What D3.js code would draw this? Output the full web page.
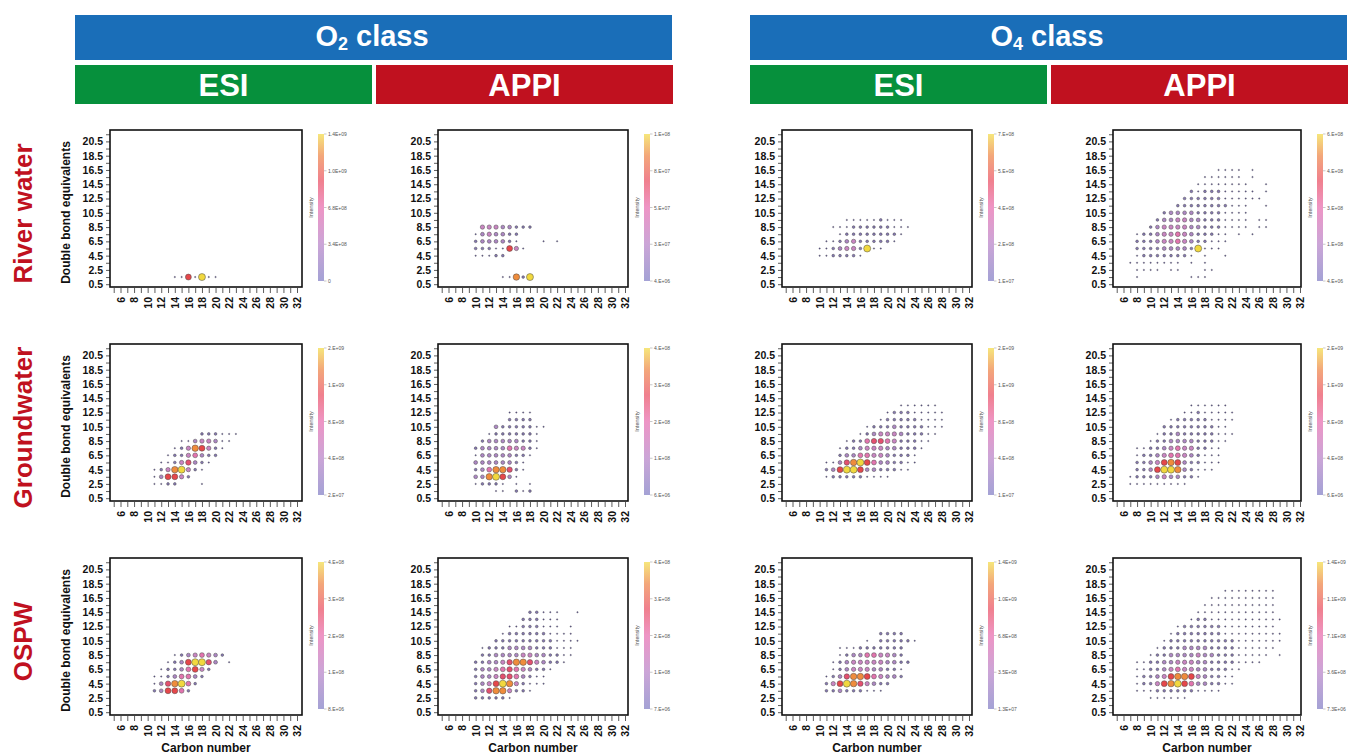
<!DOCTYPE html>
<html><head><meta charset="utf-8">
<script src="https://cdn.jsdelivr.net/npm/d3@7"></script>
<style>body{margin:0;background:#fff}svg{display:block}text{font-family:"Liberation Sans",Arial,sans-serif}</style>
</head><body><svg id="c" width="1348" height="756"></svg>
<script>
// ---------------- DATA ----------------
const rowNames = ["River water", "Groundwater", "OSPW"];
const classBase = ["O", "O"];
const classSub = ["2", "4"];
const classRest = [" class", " class"];
const ionNames = ["ESI", "APPI"];
const carbonTicks = [6, 8, 10, 12, 14, 16, 18, 20, 22, 24, 26, 28, 30, 32];
const dbeTicks = [0.5, 2.5, 4.5, 6.5, 8.5, 10.5, 12.5, 14.5, 16.5, 18.5, 20.5];
const intensityLevels = [1, 2, 3, 4, 5, 6, 7, 8, 9];

// each row: "DBE:first carbon number:intensity level per carbon (0 = absent)"
const riverO2ESI = ["1.5:14:1171911"];
const riverO2APPI = ["8.5:11:44433222", "7.5:10:1343322", "6.5:10:2333321000101", "5.5:10:22211741", "4.5:10:11122", "1.5:14:11829"];
const riverO4ESI = ["9.5:14:111112111", "8.5:12:111222222111", "7.5:13:1222222221", "6.5:11:11234222221", "5.5:10:1123442911", "4.5:10:1122221"];
const riverO4APPI = ["16.5:20:111101", "15.5:18:11111101", "14.5:17:11111111001", "13.5:16:212221111101", "12.5:15:222222111111",
  "11.5:14:22222222111001", "10.5:12:2333322221111", "9.5:11:23344332221111011", "8.5:10:234444332221111011",
  "7.5:8:122344543222110101", "6.5:8:22234454322111", "5.5:8:2222333329111", "4.5:8:12222222101001",
  "3.5:7:111111110101", "2.5:8:111101100011", "1.5:8:10000000111"];
const groundO2ESI = ["9.5:18:222111", "8.5:15:11344311", "7.5:14:12487421", "6.5:13:12245322", "5.5:12:11246321",
  "4.5:11:12489421", "3.5:11:137742", "2.5:11:11220001"];
const groundO2APPI = ["12.5:15:1111", "11.5:15:2222", "10.5:13:32222211", "9.5:12:12222221", "8.5:11:233333221",
  "7.5:10:2333354421", "6.5:10:133333221", "5.5:10:33333321", "4.5:10:23588621", "3.5:10:3389731",
  "2.5:10:122210101", "1.5:13:110212"];
const groundO4ESI = ["13.5:22:111111", "12.5:20:122211111", "11.5:19:1222221111", "10.5:17:122232222111",
  "9.5:16:123444322211", "8.5:14:1225665422211", "7.5:13:1223444332221", "6.5:13:233554432221",
  "5.5:11:11368975332211", "4.5:11:2379973322211", "3.5:11:1222221111"];
const groundO4APPI = ["13.5:16:111111", "12.5:15:11211111", "11.5:13:1222221111", "10.5:12:2222222211",
  "9.5:11:122322222111", "8.5:10:122333322211", "7.5:8:1122345442211", "6.5:8:1223455432111",
  "5.5:8:2234787322111", "4.5:8:223799832111", "3.5:7:12223433221", "2.5:7:111111111"];
const ospwO2ESI = ["8.5:14:12345432", "7.5:13:1237996301", "6.5:12:12235742", "5.5:11:11235532", "4.5:11:1368952", "3.5:11:237752"];
const ospwO2APPI = ["14.5:18:22111001", "13.5:17:222111", "12.5:15:1122211101", "11.5:14:12222221111",
  "10.5:13:2222222221111", "9.5:11:12223333222111", "8.5:11:22333344332211", "7.5:10:22334688643221",
  "6.5:10:233456543221", "5.5:10:23346653211", "4.5:10:23479842111", "3.5:10:236884221", "2.5:10:222221"];
const ospwO4ESI = ["11.5:19:2222", "10.5:17:10222221", "9.5:13:1112222222", "8.5:13:1233554432",
  "7.5:12:123444443322", "6.5:12:12344433221", "5.5:11:123688754332", "4.5:11:2479864322", "3.5:11:223222111"];
const ospwO4APPI = ["17.5:21:11111111", "16.5:19:1111111111", "15.5:18:11111111111", "14.5:17:111111111111",
  "13.5:16:12211111111111", "12.5:14:122222211111111", "11.5:13:12222222111111111", "10.5:12:122222222221111111",
  "9.5:11:122233332222111111", "8.5:10:12233334332221111101", "7.5:8:1122334443322221111",
  "6.5:8:1122345443322211", "5.5:8:122347887432211", "4.5:8:122478975332211", "3.5:8:1112222221111", "2.5:10:111111"];

// colour-bar tick labels (top to bottom)
const cbRiver = [["1.4E+09","1.0E+09","6.8E+08","3.4E+08","0"], ["1.E+08","8.E+07","5.E+07","3.E+07","4.E+06"],
  ["7.E+08","5.E+08","4.E+08","2.E+08","1.E+07"], ["6.E+08","4.E+08","3.E+08","1.E+08","4.E+06"]];
const cbGround = [["2.E+09","1.E+09","8.E+08","4.E+08","2.E+07"], ["4.E+08","3.E+08","2.E+08","1.E+08","6.E+06"],
  ["2.E+09","1.E+09","8.E+08","4.E+08","1.E+07"], ["2.E+09","1.E+09","8.E+08","4.E+08","6.E+06"]];
const cbOSPW = [["4.E+08","3.E+08","2.E+08","1.E+08","8.E+06"], ["4.E+08","3.E+08","2.E+08","1.E+08","7.E+06"],
  ["1.4E+09","1.0E+09","6.8E+08","3.5E+08","1.3E+07"], ["1.4E+09","1.1E+09","7.1E+08","3.6E+08","7.3E+06"]];

const panelData = [
  [riverO2ESI, riverO2APPI, riverO4ESI, riverO4APPI],
  [groundO2ESI, groundO2APPI, groundO4ESI, groundO4APPI],
  [ospwO2ESI, ospwO2APPI, ospwO4ESI, ospwO4APPI]
];
const cbLabels = [cbRiver, cbGround, cbOSPW];

// ---------------- LAYOUT ----------------
const svg = d3.select("#c");
const colX = [110, 438, 782, 1113];
const colW = [192, 190, 190, 188];
const rowY = [130, 344, 558];
const boxH = 157;
const blue = "#1a6eb8", green = "#06903c", red = "#c0111f";

const levelColor = d3.scaleLinear().domain(intensityLevels)
  .range(["#5f5690", "#8678b5", "#ad87c4", "#c985c2", "#e274ae", "#e4506f", "#e5474a", "#ef8c3c", "#f1d83e"]);
const levelRadius = d3.scaleLinear().domain([1, 2, 3, 9]).range([0.75, 1.35, 1.9, 3.5]);

// gradient for colour bars
const defs = svg.append("defs");
const grad = defs.append("linearGradient").attr("id", "cbg").attr("x1", 0).attr("y1", 1).attr("x2", 0).attr("y2", 0);
[[0, "#a4a2d5"], [0.25, "#cba5d7"], [0.5, "#ee95c5"], [0.68, "#f0808e"], [0.85, "#f3a67a"], [1, "#f6e67b"]]
  .forEach(([o, c]) => grad.append("stop").attr("offset", o).attr("stop-color", c));

// ---------------- HEADERS ----------------
const classX = [75, 750];
classX.forEach((x0, k) => {
  svg.append("rect").attr("x", x0).attr("y", 15).attr("width", 597).attr("height", 45).attr("fill", blue);
  const t = svg.append("text").attr("x", x0 + 297).attr("y", 36).attr("text-anchor", "middle")
    .attr("dominant-baseline", "central").attr("fill", "#fff").attr("font-weight", "bold").attr("font-size", 29);
  t.append("tspan").text(classBase[k]);
  t.append("tspan").text(classSub[k]).attr("font-size", 18).attr("dy", 8);
  t.append("tspan").text(classRest[k]).attr("dy", -8);
  ionNames.forEach((ion, j) => {
    const bx = x0 + j * 300 + (j ? 1 : 0);
    const bw = 297;
    svg.append("rect").attr("x", bx).attr("y", 65).attr("width", bw).attr("height", 39).attr("fill", j ? red : green);
    svg.append("text").attr("x", bx + bw / 2).attr("y", 85).attr("text-anchor", "middle")
      .attr("dominant-baseline", "central").attr("fill", "#fff").attr("font-weight", "bold").attr("font-size", 31).text(ion);
  });
});

// row labels
rowNames.forEach((name, r) => {
  const cy = rowY[r] + boxH / 2 + 5;
  svg.append("text").attr("transform", `translate(32,${cy}) rotate(-90)`).attr("text-anchor", "middle")
    .attr("fill", red).attr("font-weight", "bold").attr("font-size", 26).text(name);
});

// ---------------- PANELS ----------------
function parseRows(rows) {
  const pts = [];
  rows.forEach(s => {
    const [dbe, c0, lv] = s.split(":");
    lv.split("").forEach((d, i) => {
      const level = +d;
      if (level > 0) pts.push({ c: +c0 + i, dbe: +dbe, level });
    });
  });
  return pts.sort((a, b) => a.level - b.level);
}

panelData.forEach((rowPanels, r) => {
  rowPanels.forEach((rows, col) => {
    const L = colX[col], T = rowY[r], W = colW[col];
    const x = d3.scaleLinear().domain([6, 32]).range([L + 10.5, L + 187]);
    const y = d3.scaleLinear().domain([0.5, 20.5]).range([T + 154.2, T + 11.4]);
    const g = svg.append("g");

    // y axis: minor ticks every unit, labels every 2
    const yAx = d3.axisLeft(y).tickValues(d3.range(0.5, 22, 1)).tickSize(4).tickPadding(3)
      .tickFormat(d => dbeTicks.includes(d) ? d3.format(".1f")(d) : "");
    const ya = g.append("g").attr("transform", `translate(${L},0)`).call(yAx);
    ya.select(".domain").remove();
    ya.selectAll("line").attr("stroke", "#333").attr("stroke-width", 0.8);
    ya.selectAll("text").attr("font-size", 10.5).attr("font-weight", "bold").attr("fill", "#111")
      .attr("font-family", "Liberation Sans, Arial, sans-serif");

    // x axis
    const xAx = d3.axisBottom(x).tickValues(d3.range(5, 33, 1)).tickSize(5).tickPadding(3)
      .tickFormat(d => carbonTicks.includes(d) ? String(d) : "");
    const xa = g.append("g").attr("transform", `translate(0,${T + boxH + 1})`).call(xAx);
    xa.select(".domain").remove();
    xa.selectAll("line").attr("stroke", "#333").attr("stroke-width", 0.8);
    xa.selectAll("text").attr("font-size", 10.5).attr("font-weight", "bold").attr("fill", "#111")
      .attr("font-family", "Liberation Sans, Arial, sans-serif")
      .attr("transform", "rotate(-90)").attr("text-anchor", "end").attr("dy", "0.35em")
      .attr("x", -9).attr("y", 0);

    // bubbles
    g.append("g").selectAll("circle").data(parseRows(rows)).join("circle")
      .attr("cx", d => x(d.c)).attr("cy", d => y(d.dbe))
      .attr("r", d => levelRadius(d.level))
      .attr("fill", d => levelColor(d.level))
      .attr("stroke", "#4a4a4a").attr("stroke-width", d => d.level > 1 ? 0.5 : 0.3);

    // frame
    g.append("rect").attr("x", L).attr("y", T).attr("width", W).attr("height", boxH)
      .attr("fill", "none").attr("stroke", "#111").attr("stroke-width", 1.6);

    // colour bar
    const bx = L + W + 16, by0 = T + 4, by1 = T + boxH - 6;
    g.append("rect").attr("x", bx).attr("y", by0).attr("width", 6).attr("height", by1 - by0).attr("fill", "url(#cbg)");
    const cbY = d3.scaleLinear().domain([0, 4]).range([by0, by1]);
    cbLabels[r][col].forEach((lab, i) => {
      g.append("line").attr("x1", bx + 6).attr("x2", bx + 8.5).attr("y1", cbY(i)).attr("y2", cbY(i))
        .attr("stroke", "#777").attr("stroke-width", 0.4);
      g.append("text").attr("x", bx + 10).attr("y", cbY(i)).attr("dominant-baseline", "central")
        .attr("font-size", 5).attr("fill", "#555").text(lab);
    });
    g.append("text").attr("transform", `translate(${bx - 5},${(by0 + by1) / 2}) rotate(-90)`)
      .attr("text-anchor", "middle").attr("font-size", 5.5).attr("fill", "#555").text("Intensity");

    // axis titles
    if (col === 0) {
      g.append("text").attr("transform", `translate(70,${T + boxH / 2 + 4}) rotate(-90)`)
        .attr("text-anchor", "middle").attr("font-weight", "bold").attr("font-size", 12).attr("fill", "#111")
        .text("Double bond equivalents");
    }
    if (r === 2) {
      g.append("text").attr("x", L + W / 2).attr("y", 752).attr("text-anchor", "middle")
        .attr("font-weight", "bold").attr("font-size", 12).attr("fill", "#111").text("Carbon number");
    }
  });
});
</script></body></html>
